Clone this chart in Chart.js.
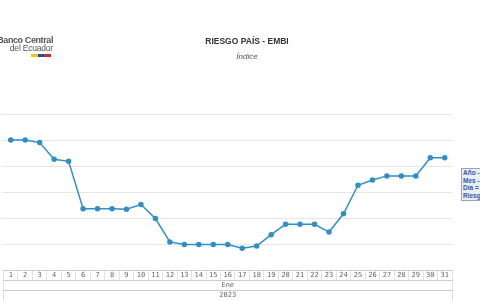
<!DOCTYPE html>
<html>
<head>
<meta charset="utf-8">
<script src="https://cdn.jsdelivr.net/npm/chart.js@4.4.0/dist/chart.umd.min.js"></script>
<style>
 html,body{margin:0;padding:0;background:#fff;overflow:hidden;width:480px;height:301px;}
 #wrap{position:relative;width:480px;height:301px;font-family:"Liberation Sans",Arial,sans-serif;}
 canvas{position:absolute;left:0;top:0;}
 .logo1{position:absolute;right:427px;top:35px;font-size:9px;font-weight:bold;color:#555;letter-spacing:-0.4px;white-space:nowrap;}
 .logo2{position:absolute;right:427px;top:43px;font-size:8.5px;color:#555;letter-spacing:-0.2px;white-space:nowrap;}
 .strip{position:absolute;top:54px;height:3px;}
 .titulo{position:absolute;left:147px;width:200px;top:36px;text-align:center;font-size:8.5px;font-weight:bold;color:#333;}
 .sub{position:absolute;left:147px;width:200px;top:52px;text-align:center;font-size:8px;font-style:italic;color:#555;}
 .tip{position:absolute;left:461px;top:168px;width:40px;height:33px;border:1px solid #9aa3b5;background:#e8eef9;
  font-size:6.5px;font-weight:bold;color:#3557a8;line-height:7.7px;padding:0 1px;box-sizing:border-box;white-space:nowrap;}
</style>
</head>
<body>
<div id="wrap">
 <canvas id="chart" width="480" height="301"></canvas>
 <div class="logo1">Banco Central</div>
 <div class="logo2">del Ecuador</div>
 <div class="strip" style="left:31px;width:7px;background:#f2c31a"></div>
 <div class="strip" style="left:38px;width:6px;background:#1d4f9f"></div>
 <div class="strip" style="left:44px;width:7px;background:#d8262b"></div>
 <div class="titulo">RIESGO PAÍS - EMBI</div>
 <div class="sub">Índice</div>
 <div class="tip">Año -<br>Mes -<br>Día =<br>Riesgo</div>
</div>
<script>
const dias=["1","2","3","4","5","6","7","8","9","10","11","12","13","14","15","16",
"17","18","19","20","21","22","23","24","25","26","27","28","29","30","31"];
const meses=["Ene"];
const anios=["2023"];
const riesgo=[1250,1250,1245,1213,1209,1118,1118,1118,1117,1126,1099,1054,1049,1049,1049,1049,
1042,1046,1068,1088,1088,1088,1073,1108,1163,1173,1181,1181,1181,1216,1216];

const celda=(w)=>function(s){s.height=w;};
const ejeX=(labels,peso)=>({
 type:"category",labels:labels,position:"bottom",weight:peso,offset:true,
 afterFit:celda(10),
 grid:{offset:true,drawOnChartArea:false,drawTicks:true,tickLength:10,color:"#e2e2e2",lineWidth:1},
 border:{display:true,color:"#cccccc",width:1},
 ticks:{padding:-9.5,autoSkip:false,maxRotation:0,color:"#666",font:{family:"DejaVu Sans Mono",size:7}}
});

const chart=new Chart(document.getElementById("chart"),{
 type:"line",
 data:{labels:dias,datasets:[{
  data:riesgo,borderColor:"#2f8fc6",backgroundColor:"#2f8fc6",borderWidth:1.5,
  pointRadius:2,pointHoverRadius:2,tension:0,fill:false
 }]},
 options:{
  responsive:false,animation:false,
  layout:{padding:{top:114,right:28,bottom:1,left:0}},
  plugins:{legend:{display:false},tooltip:{enabled:false},title:{display:false}},
  scales:{
   x:ejeX(dias,0),
   x2:ejeX(meses,1),
   x3:ejeX(anios,2),
   y:{min:1000,max:1300,
    afterFit:function(s){s.width=2;},
    ticks:{display:false,stepSize:50},
    grid:{color:"#e6e6e6",tickLength:2,drawTicks:true},
    border:{display:false}}
  }
 }
});
</script>
</body>
</html>
